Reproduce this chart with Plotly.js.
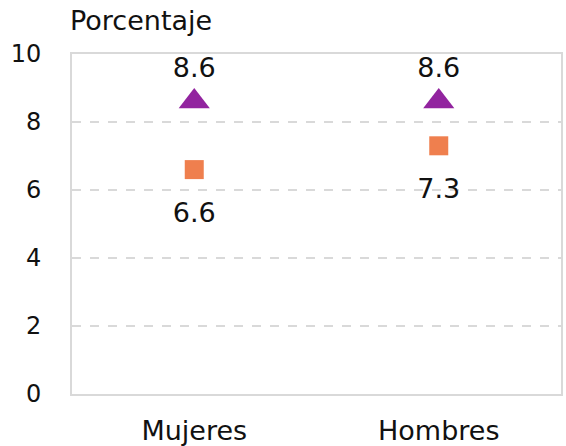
<!DOCTYPE html>
<html><head><meta charset="utf-8">
<script src="https://cdn.plot.ly/plotly-3.0.1.min.js"></script>
<style>html,body{margin:0;padding:0;background:#fff}</style>
</head><body>
<div id="chart" style="width:566px;height:446px"></div>
<script>
const categories = ['Mujeres', 'Hombres'];
const triangleValues = [8.6, 8.6];
const squareValues = [6.6, 7.3];
const yTicks = [0, 2, 4, 6, 8, 10];

const font = 'DejaVu Sans, sans-serif';
const traces = [
  {
    x: categories, y: triangleValues, type: 'scatter', mode: 'markers+text',
    marker: {symbol: 'triangle-up', size: 27, color: '#92249F'},
    text: triangleValues.map(v => v.toFixed(1)), textposition: 'top center',
    textfont: {family: font, size: 27, color: '#111'}, cliponaxis: false, showlegend: false
  },
  {
    x: categories, y: squareValues, type: 'scatter', mode: 'markers',
    marker: {symbol: 'square', size: 19, color: '#EF7F4E'},
    cliponaxis: false, showlegend: false
  },
  {
    x: categories, y: squareValues, type: 'scatter', mode: 'markers+text',
    marker: {symbol: 'square', size: 50, color: 'rgba(0,0,0,0)'},
    text: squareValues.map(v => v.toFixed(1)), textposition: 'bottom center',
    textfont: {family: font, size: 27, color: '#111'}, cliponaxis: false, showlegend: false
  }
];
const layout = {
  width: 566, height: 446,
  margin: {l: 72, r: 5, t: 54, b: 52},
  paper_bgcolor: '#fff', plot_bgcolor: '#fff',
  font: {family: font, size: 24, color: '#111'},
  xaxis: {
    type: 'category', range: [-0.5, 1.5], showgrid: false,
    showline: true, linecolor: '#d9d9d9', linewidth: 2, mirror: true,
    ticks: '', ticklabelstandoff: 12, tickfont: {size: 27, color: '#111'}, zeroline: false
  },
  yaxis: {
    range: [0, 10], tickvals: yTicks, ticktext: yTicks.map(String),
    showgrid: true, gridcolor: '#d9d9d9', griddash: 'dash', gridwidth: 1.5,
    showline: true, linecolor: '#d9d9d9', linewidth: 2, mirror: true,
    ticks: '', ticklabelstandoff: 24, tickfont: {size: 24, color: '#111'}, zeroline: false
  },
  annotations: [{
    text: 'Porcentaje', xref: 'paper', yref: 'paper', x: 0, y: 1, xanchor: 'left', yanchor: 'bottom',
    xshift: -4, yshift: 16, showarrow: false, font: {family: font, size: 27, color: '#111'}
  }]
};
Plotly.newPlot('chart', traces, layout, {displayModeBar: false, staticPlot: true});
</script>
</body></html>
